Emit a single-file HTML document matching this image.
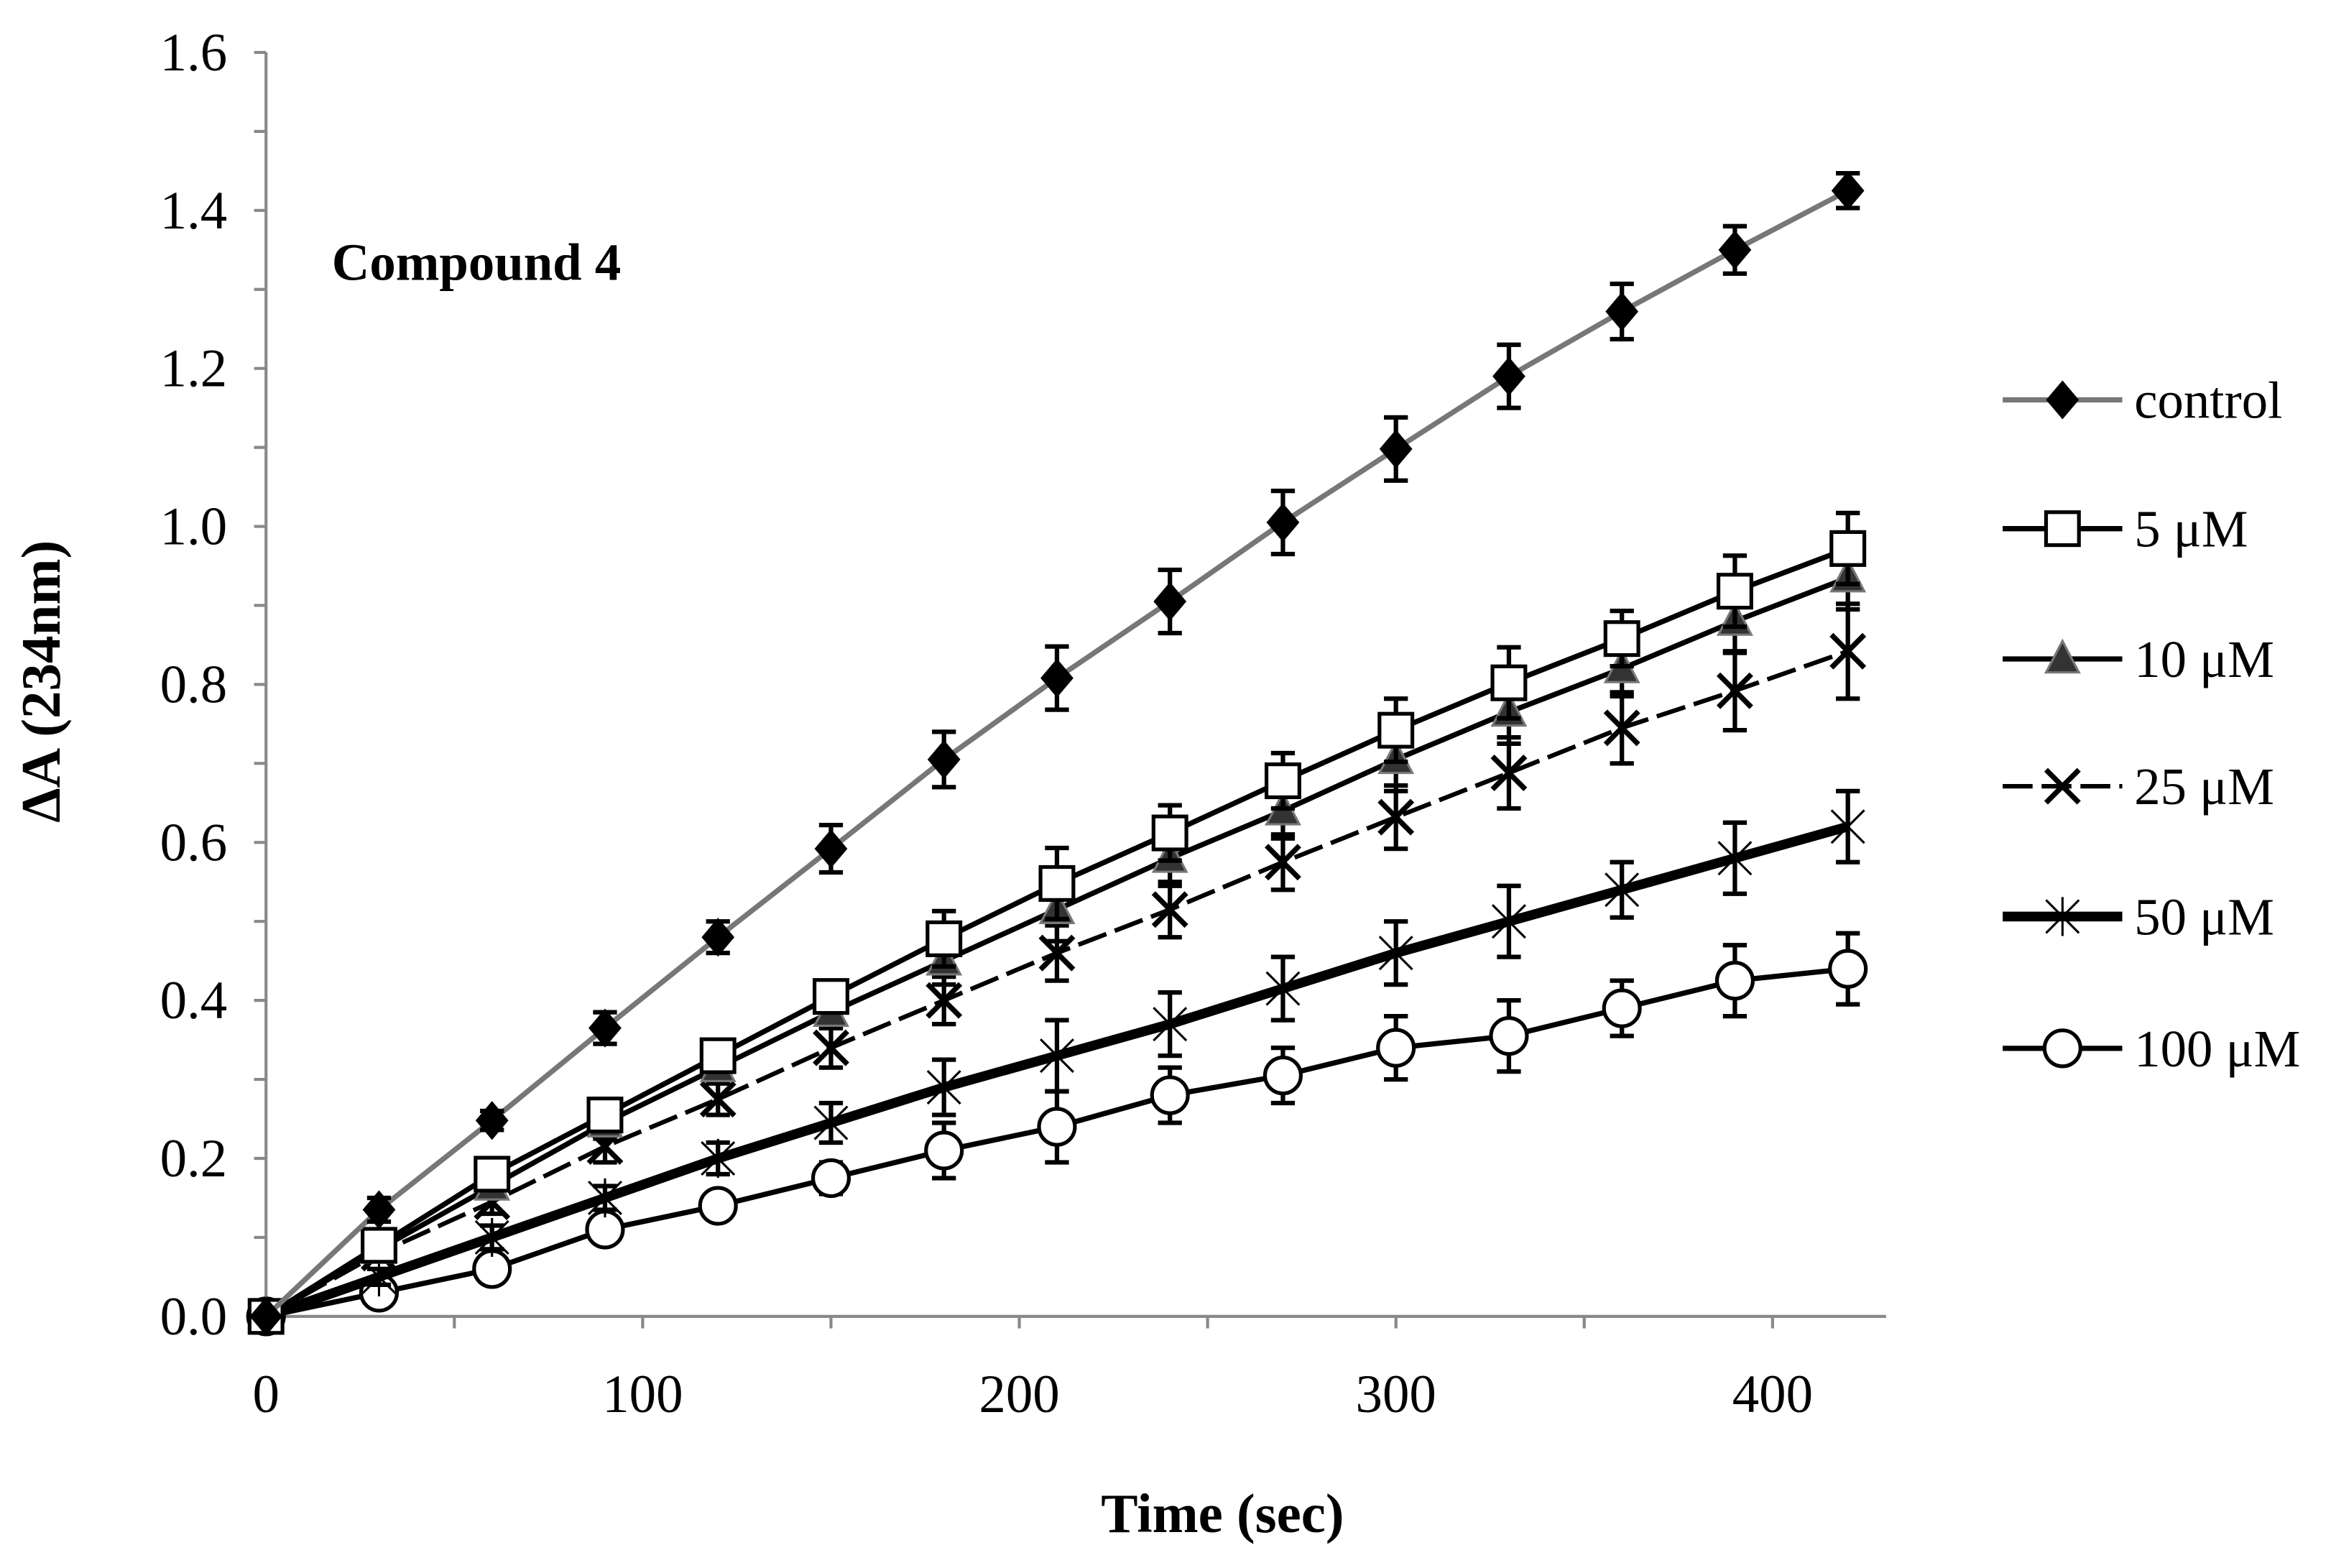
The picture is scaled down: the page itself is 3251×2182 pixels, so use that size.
<!DOCTYPE html>
<html><head><meta charset="utf-8"><style>html,body{margin:0;padding:0;background:#fff}svg{display:block}</style></head>
<body>
<svg id="chart" width="3251" height="2182" viewBox="0 0 1563 1047" preserveAspectRatio="none" xmlns="http://www.w3.org/2000/svg" font-family="'Liberation Serif', serif">
<rect width="1563" height="1047" fill="#fff"/>
<g id="axes"></g>
<g id="series"></g>
<g id="legend"></g>
<text x="222" y="187" font-size="35" font-weight="bold">Compound 4</text>
<text x="818" y="1023" font-size="37" font-weight="bold" text-anchor="middle">Time (sec)</text>
<text transform="translate(40,455) rotate(-90)" font-size="37" font-weight="bold" text-anchor="middle">ΔA (234nm)</text>
</svg>
<script>
const times=[0,30,60,90,120,150,180,210,240,270,300,330,360,390,420];
const seriesNames=["control","5 μM","10 μM","25 μM","50 μM","100 μM"];
const controlVals=[0,0.135,0.248,0.365,0.48,0.592,0.705,0.808,0.905,1.005,1.098,1.19,1.272,1.35,1.425];
const controlErr=[0,0.015,0.012,0.02,0.02,0.03,0.035,0.04,0.04,0.04,0.04,0.04,0.035,0.03,0.022];
const v5=[0,0.09,0.18,0.255,0.33,0.405,0.478,0.548,0.612,0.678,0.742,0.802,0.858,0.918,0.972];
const e5=[0,0.01,0.015,0.02,0.02,0.02,0.035,0.045,0.035,0.035,0.04,0.045,0.035,0.045,0.045];
const v10=[0,0.085,0.165,0.245,0.315,0.385,0.45,0.515,0.58,0.64,0.705,0.765,0.82,0.88,0.935];
const e10=[0,0.01,0.015,0.02,0.02,0.02,0.03,0.04,0.035,0.035,0.04,0.04,0.035,0.04,0.04];
const v25=[0,0.08,0.145,0.215,0.275,0.34,0.4,0.46,0.515,0.575,0.632,0.688,0.745,0.792,0.842];
const e25=[0,0.01,0.015,0.02,0.02,0.025,0.03,0.035,0.035,0.035,0.04,0.045,0.045,0.05,0.06];
const v50=[0,0.05,0.1,0.15,0.2,0.245,0.29,0.33,0.37,0.415,0.46,0.5,0.54,0.58,0.62];
const e50=[0,0.01,0.015,0.015,0.02,0.025,0.035,0.045,0.04,0.04,0.04,0.045,0.035,0.045,0.045];
const v100=[0,0.03,0.06,0.11,0.14,0.175,0.21,0.24,0.28,0.305,0.34,0.355,0.39,0.425,0.44];
const e100=[0,0.01,0.01,0.015,0.015,0.02,0.035,0.045,0.035,0.035,0.04,0.045,0.035,0.045,0.045];
const yTicks=[0,0.2,0.4,0.6,0.8,1.0,1.2,1.4,1.6];
const xTicks=[0,100,200,300,400];

const NS="http://www.w3.org/2000/svg";
const X=t=>178+t*2.52;
const Y=v=>879-v*527.5;
function el(tag,attrs,parent){const e=document.createElementNS(NS,tag);for(const k in attrs)e.setAttribute(k,attrs[k]);parent.appendChild(e);return e;}
const axes=document.getElementById('axes');
let a=el('line',{x1:178,y1:Y(1.6),x2:178,y2:879,stroke:'#888',"stroke-width":2},axes);

a=el('line',{x1:178,y1:879,x2:1262,y2:879,stroke:'#888',"stroke-width":2},axes);

for(let i=0;i<=16;i++){const v=i*0.1;el('line',{x1:170,y1:Y(v),x2:178,y2:Y(v),stroke:'#888',"stroke-width":2},axes);}
yTicks.forEach(v=>{const t=el('text',{x:152,y:Y(v)+12,"font-size":36,"text-anchor":"end"},axes);t.textContent=v.toFixed(1);
});
for(let i=0;i<=8;i++){const v=i*50;el('line',{x1:X(v),y1:879,x2:X(v),y2:887,stroke:'#888',"stroke-width":2},axes);}
xTicks.forEach(v=>{const t=el('text',{x:X(v),y:943,"font-size":36,"text-anchor":"middle"},axes);t.textContent=v;
});

function marker(type,cx,cy,g){
 if(type==='diamond')el('path',{d:`M${cx} ${cy-13}L${cx+11} ${cy}L${cx} ${cy+13}L${cx-11} ${cy}Z`,fill:'#000'},g);
 else if(type==='square')el('rect',{x:cx-11,y:cy-11,width:22,height:22,fill:'#fff',stroke:'#000',"stroke-width":2.5},g);
 else if(type==='triangle')el('path',{d:`M${cx} ${cy-12}L${cx+11} ${cy+9}L${cx-11} ${cy+9}Z`,fill:'#333',stroke:'#777',"stroke-width":1.5},g);
 else if(type==='x'){el('path',{d:`M${cx-11} ${cy-11}L${cx+11} ${cy+11}M${cx+11} ${cy-11}L${cx-11} ${cy+11}`,stroke:'#000',"stroke-width":3.5},g);}
 else if(type==='star'){el('path',{d:`M${cx-11} ${cy-11}L${cx+11} ${cy+11}M${cx+11} ${cy-11}L${cx-11} ${cy+11}M${cx} ${cy-13}L${cx} ${cy+13}`,stroke:'#000',"stroke-width":1.5},g);}
 else if(type==='circle')el('circle',{cx,cy,r:12,fill:'#fff',stroke:'#000',"stroke-width":2.5},g);
}
const defs=[
 {vals:controlVals,err:controlErr,color:'#777',w:3.5,m:'diamond',dash:null,name:'control'},
 {vals:v5,err:e5,color:'#000',w:3.5,m:'square',dash:null,name:'5uM'},
 {vals:v10,err:e10,color:'#000',w:3.5,m:'triangle',dash:null,name:'10uM'},
 {vals:v25,err:e25,color:'#000',w:3,m:'x',dash:'20 6',name:'25uM'},
 {vals:v50,err:e50,color:'#000',w:6.5,m:'star',dash:null,name:'50uM'},
 {vals:v100,err:e100,color:'#000',w:3.5,m:'circle',dash:null,name:'100uM'}];
const sg=document.getElementById('series');
defs.slice().reverse().forEach(d=>{
 const g=el('g',{},sg);
 
 const pts=times.map((t,i)=>X(t)+','+Y(d.vals[i])).join(' ');
 const attrs={points:pts,fill:'none',stroke:d.color,"stroke-width":d.w};
 if(d.dash)attrs['stroke-dasharray']=d.dash;
 el('polyline',attrs,g);
 times.forEach((t,i)=>{const x=X(t),y1=Y(d.vals[i]+d.err[i]),y2=Y(d.vals[i]-d.err[i]);
  if(d.err[i]>0)el('path',{d:`M${x} ${y1}L${x} ${y2}M${x-8} ${y1}L${x+8} ${y1}M${x-8} ${y2}L${x+8} ${y2}`,stroke:'#000',"stroke-width":3,fill:'none'},g);
  marker(d.m,x,Y(d.vals[i]),g);});
});
const lg=document.getElementById('legend');
const ly=[267,353,440,525,612,700];
defs.forEach((d,i)=>{
 const g=el('g',{},lg);
 
 const attrs={x1:1340,y1:ly[i],x2:1420,y2:ly[i],stroke:d.color,"stroke-width":d.w};
 if(d.dash)attrs['stroke-dasharray']='20 6';
 el('line',attrs,g);marker(d.m,1380,ly[i],g);
 const t=el('text',{x:1428,y:ly[i]+12,"font-size":35},g);t.textContent=seriesNames[i];
});
</script>
</body></html>
